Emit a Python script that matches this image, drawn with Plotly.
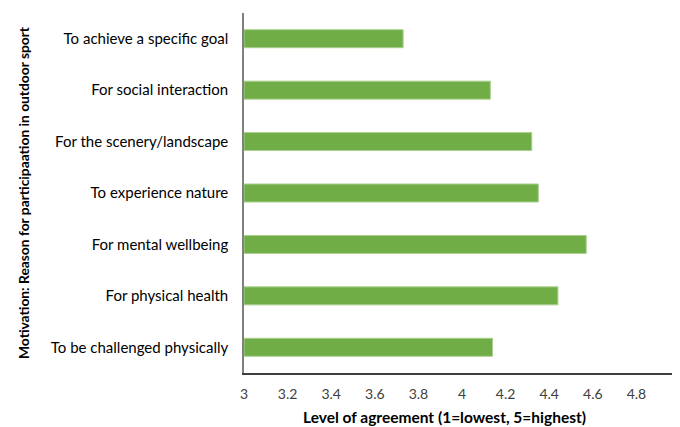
import plotly.graph_objects as go

categories = [
    "To achieve a specific goal",
    "For social interaction",
    "For the scenery/landscape",
    "To experience nature",
    "For mental wellbeing",
    "For physical health",
    "To be challenged physically",
]
values = [3.73, 4.13, 4.32, 4.35, 4.57, 4.44, 4.14]
x_ticks = [3, 3.2, 3.4, 3.6, 3.8, 4, 4.2, 4.4, 4.6, 4.8, 5]
x_tick_labels = ["3", "3.2", "3.4", "3.6", "3.8", "4", "4.2", "4.4", "4.6", "4.8", "5"]
axis_start = 3
x_title = "<b>Level of agreement (1=lowest, 5=highest)</b>"
y_title = "<b>Motivation: Reason for participaation in outdoor sport</b>"

font_family = "Lato, 'Open Sans', sans-serif"

fig = go.Figure(
    go.Bar(
        x=[v - axis_start for v in values],
        y=categories,
        orientation="h",
        base=axis_start,
        marker=dict(color="#70AD47", line=dict(color="#A9D18E", width=1)),
        width=0.35,
    )
)

# The page body has an 8px default margin, so the figure is 8px smaller
fig.update_layout(
    template="none",
    width=672,
    height=419,
    margin=dict(l=236, r=0, t=5, b=54),
    paper_bgcolor="white",
    plot_bgcolor="white",
    showlegend=False,
    font=dict(family=font_family, size=14, color="#000000"),
    annotations=[
        dict(
            text=x_title,
            xref="paper",
            yref="paper",
            x=0.4605,
            y=0,
            yshift=-44,
            xanchor="center",
            yanchor="middle",
            showarrow=False,
            font=dict(size=15.5, color="#000000"),
        )
    ],
)
fig.update_xaxes(
    range=[3, 5],
    tickvals=x_ticks,
    ticktext=x_tick_labels,
    showgrid=False,
    zeroline=False,
    showline=True,
    linecolor="#404040",
    linewidth=1.5,
    ticks="outside",
    ticklen=7,
    tickcolor="rgba(0,0,0,0)",
    tickfont=dict(size=14, color="#404040"),
    ticklabeloverflow="allow",
    automargin=False,
)
fig.update_yaxes(
    categoryorder="array",
    categoryarray=categories,
    autorange="reversed",
    showgrid=False,
    zeroline=False,
    showline=True,
    linecolor="#808080",
    linewidth=1.5,
    ticks="",
    ticklabelstandoff=11,
    tickfont=dict(size=15, color="#000000"),
    automargin=False,
    title=dict(
        text=y_title,
        font=dict(size=13.8, color="#000000"),
        standoff=18,
    ),
)

fig.write_html("out.html")
